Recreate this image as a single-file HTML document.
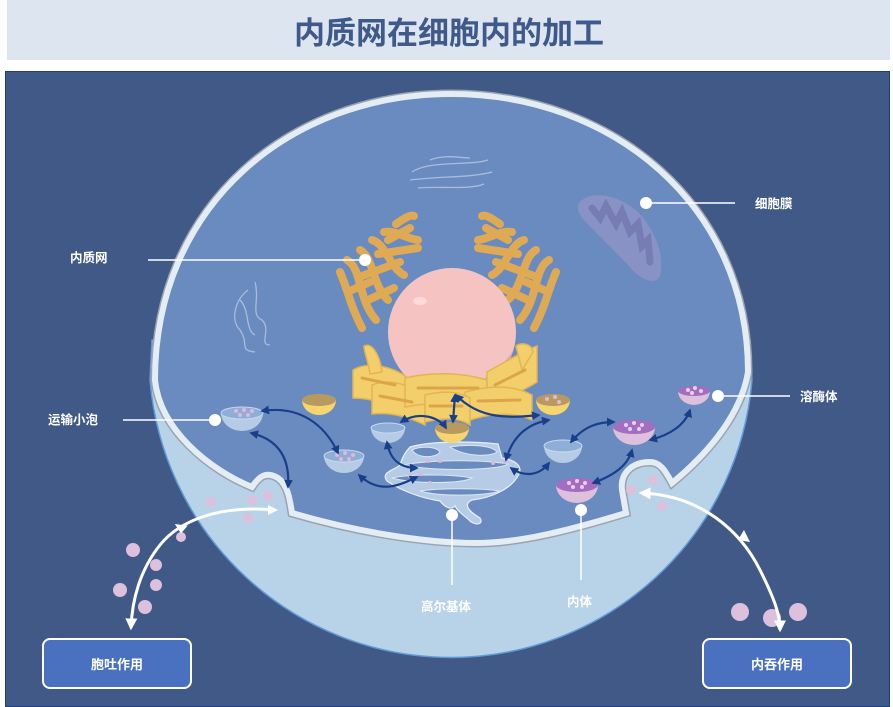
<!DOCTYPE html>
<html><head><meta charset="utf-8"><style>
html,body{margin:0;padding:0;background:#fff;}
body{width:893px;height:707px;overflow:hidden;position:relative;font-family:"Liberation Sans","Noto Sans CJK SC",sans-serif;}
</style></head><body>
<svg width="893" height="707" viewBox="0 0 893 707" xmlns="http://www.w3.org/2000/svg" style="position:absolute;left:0;top:0">
<defs>
<marker id="ah" viewBox="0 0 10 10" refX="8" refY="5" markerWidth="4" markerHeight="4" orient="auto-start-reverse"><path d="M0,0 L10,5 L0,10 z" fill="#1a3f8a"/></marker>
<marker id="wh" viewBox="0 0 10 10" refX="8" refY="5" markerWidth="4" markerHeight="4" orient="auto-start-reverse"><path d="M0,0 L10,5 L0,10 z" fill="#fff"/></marker>
</defs>
<rect x="7" y="0" width="883" height="60" fill="#dde6f0"/>
<text x="449" y="44" text-anchor="middle" font-size="31" font-weight="bold" fill="#3f5a8a" font-family="Liberation Sans, Noto Sans CJK SC, sans-serif">内质网在细胞内的加工</text>
<rect x="5.5" y="71.5" width="884" height="635" fill="#405987" stroke="#1f3f7a"/>

<!-- outer cell lower sphere -->
<path d="M150,380 A302,302 0 0,0 752,380 L750,340 L152,340 Z" fill="#b8d2e8" stroke="#5f9ad8" stroke-width="1.5"/>
<!-- cytoplasm -->
<path d="M155,380 C155,205 290,94 451,94 C612,94 748,205 748,372 C740,420 700,460 672,483 C665,470 660,462 650,462 C630,462 620,475 622,490 L626,513 C570,530 520,543 476,543 C420,543 350,530 292,513 C290,500 288,485 278,478 C265,470 258,478 252,487 C210,470 160,430 155,380 Z" fill="#6a8bbf" stroke="#9aa4b0" stroke-width="9"/>
<path d="M155,380 C155,205 290,94 451,94 C612,94 748,205 748,372 C740,420 700,460 672,483 C665,470 660,462 650,462 C630,462 620,475 622,490 L626,513 C570,530 520,543 476,543 C420,543 350,530 292,513 C290,500 288,485 278,478 C265,470 258,478 252,487 C210,470 160,430 155,380 Z" fill="#6a8bbf" stroke="#e4ecf4" stroke-width="6"/>

<!-- faint outlines -->
<g fill="none" stroke="#b8c8e6" stroke-width="1.3" opacity="0.8">
<path d="M412,172 C430,160 470,166 488,160 M410,180 C440,176 470,178 492,172 M418,188 C440,186 470,190 484,184 M430,160 C445,154 460,158 470,158"/>
<path d="M248,290 C235,300 230,320 240,330 C250,345 238,350 255,352 M255,282 C260,300 250,315 262,320 C272,330 258,345 270,345 M240,300 C250,310 245,330 255,335"/>
</g>
<!-- mitochondrion -->
<path d="M582,200 C595,190 620,196 638,212 C655,230 665,255 660,276 C655,286 640,280 628,265 C612,248 595,232 582,218 C576,210 577,204 582,200 Z" fill="#8e93c4" opacity="0.85"/>
<g fill="none" stroke="#7478b0" stroke-width="7" stroke-linecap="round" opacity="0.85">
<path d="M592,208 L600,218 L606,206 L616,224 L622,212 L630,232 L638,224 L642,246 L648,240 L650,262"/>
</g>

<!-- ER -->
<g id="er" fill="none" stroke="#e0aa55" stroke-width="8" stroke-linecap="round" stroke-linejoin="round">
<path d="M340,272 C348,290 350,305 362,328"/>
<path d="M347,260 C362,268 358,300 376,320"/>
<path d="M360,250 C374,258 372,285 388,300"/>
<path d="M372,240 C386,244 390,268 404,275"/>
<path d="M384,232 C396,230 404,238 418,240"/>
<path d="M396,224 C402,220 410,214 414,216"/>
<path d="M368,300 L394,288 M362,276 L400,262 M378,254 L418,248 M388,240 L410,228 M352,290 L370,282"/>
</g>
<use href="#er" transform="translate(896,0) scale(-1,1)"/>

<!-- nucleus -->
<circle cx="452" cy="332" r="64" fill="#f5c4c2"/>
<path d="M513,350 C505,375 485,392 455,396 C485,380 505,365 513,350 Z" fill="#e0a6a6"/>
<ellipse cx="420" cy="301" rx="7" ry="4" fill="#fbdada"/>

<!-- yellow stack around nucleus -->
<g fill="#f2cf6a" stroke="#e3b550" stroke-width="1.5">
<path d="M353,370 C370,360 395,368 408,378 L408,412 C392,404 370,398 353,398 Z"/>
<path d="M372,385 C390,378 410,385 425,395 L425,425 C405,415 388,412 372,414 Z"/>
<path d="M405,378 C430,372 460,372 487,380 L487,410 C460,402 430,402 405,407 Z"/>
<path d="M487,372 C505,362 522,352 537,346 L537,382 C525,390 505,398 487,406 Z"/>
<path d="M465,392 C490,385 515,385 532,395 L532,420 C515,412 490,412 465,422 Z"/>
<path d="M425,395 C445,390 460,392 470,398 L470,425 C460,418 445,417 425,422 Z"/>
<path d="M364,346 C372,342 380,355 382,372 L370,374 C368,360 364,352 364,346 Z"/>
<path d="M516,346 C522,342 532,344 533,352 L522,370 Z"/>
</g>
<g stroke="#dda54a" stroke-width="3" fill="none" stroke-linecap="round">
<path d="M362,378 L395,385 M380,396 L412,402 M418,388 L478,388 M495,385 L525,370 M478,401 L520,400 M430,406 L462,406"/>
</g>

<!-- Golgi body -->
<path d="M410,447 C430,441 470,441 498,444 L502,458 C515,460 524,466 518,476 C510,490 490,498 472,500 C462,505 470,512 480,518 C484,524 476,526 470,521 C465,516 458,512 455,506 C450,511 444,506 440,501 C420,498 400,490 387,481 C380,472 395,470 400,465 C402,458 405,452 410,447 Z" fill="#b6cce6" stroke="#e8f0fa" stroke-width="1.2"/>
<g fill="#6a8bbf" stroke="#dbe6f4" stroke-width="1">
<path d="M412,450 C420,446 436,446 440,452 C436,458 418,459 412,450 Z"/>
<path d="M450,447 C468,444 492,445 497,452 C490,457 466,457 450,447 Z"/>
<path d="M403,465 C430,460 480,459 508,464 C500,470 440,472 403,465 Z"/>
<path d="M392,478 C410,474 450,474 472,478 C460,484 415,484 392,478 Z"/>
<path d="M420,491 C440,488 480,488 500,491 C485,496 440,497 420,491 Z"/>
</g>
<g fill="#dab8d8"><circle cx="428" cy="461" r="2"/><circle cx="440" cy="461" r="2"/><circle cx="410" cy="476" r="2"/><circle cx="420" cy="474" r="2"/><circle cx="430" cy="483" r="2"/><circle cx="493" cy="463" r="2"/><circle cx="505" cy="462" r="2"/></g>

<!-- bowls -->
<path d="M221,413 A21,18 0 0,0 263,413 Z" fill="#b6cce6"/><ellipse cx="242" cy="413" rx="21" ry="6" fill="#8eaed8" stroke="#c8d8ee"/>
<path d="M324,456 A20,17 0 0,0 364,456 Z" fill="#b6cce6"/><ellipse cx="344" cy="456" rx="20" ry="6" fill="#8eaed8" stroke="#c8d8ee"/>
<path d="M371,428 A17,15 0 0,0 405,428 Z" fill="#b6cce6"/><ellipse cx="388" cy="428" rx="17" ry="5" fill="#8eaed8" stroke="#c8d8ee"/>
<path d="M544,446 A19,17 0 0,0 582,446 Z" fill="#b6cce6"/><ellipse cx="563" cy="446" rx="19" ry="6" fill="#8eaed8" stroke="#c8d8ee"/>
<path d="M302,400 A17,15 0 0,0 336,400 Z" fill="#f6d46e"/><ellipse cx="319" cy="400" rx="17" ry="6" fill="#b89a60"/>
<path d="M435,428 A17,15 0 0,0 469,428 Z" fill="#f6d46e"/><ellipse cx="452" cy="428" rx="17" ry="6" fill="#b89a60"/>
<path d="M536,400 A17,15 0 0,0 570,400 Z" fill="#f6d46e"/><ellipse cx="553" cy="400" rx="17" ry="6" fill="#b89a60"/>
<path d="M613,427 A21,18 0 0,0 655,427 Z" fill="#dcc0dc"/><ellipse cx="634" cy="427" rx="21" ry="7" fill="#a46ec0"/>
<path d="M556,485 A21,18 0 0,0 598,485 Z" fill="#dcc0dc"/><ellipse cx="577" cy="485" rx="21" ry="7" fill="#a46ec0"/>
<path d="M678,391 A16,14 0 0,0 710,391 Z" fill="#dcc0dc"/><ellipse cx="694" cy="391" rx="16" ry="5" fill="#a46ec0"/>
<g fill="#e0b8d8"><circle cx="236" cy="411" r="2"/><circle cx="244" cy="410" r="2"/><circle cx="252" cy="411" r="2"/><circle cx="240" cy="415" r="2"/><circle cx="248" cy="415" r="2"/>
<circle cx="337" cy="455" r="2"/><circle cx="345" cy="453" r="2"/><circle cx="353" cy="455" r="2"/><circle cx="341" cy="459" r="2"/><circle cx="349" cy="459" r="2"/>
<circle cx="547" cy="399" r="2"/><circle cx="555" cy="397" r="2"/><circle cx="559" cy="402" r="2"/></g>
<g fill="#e8d0ec"><circle cx="626" cy="425" r="2"/><circle cx="634" cy="423" r="2"/><circle cx="642" cy="425" r="2"/><circle cx="630" cy="429" r="2"/><circle cx="639" cy="429" r="2"/>
<circle cx="569" cy="483" r="2"/><circle cx="577" cy="481" r="2"/><circle cx="585" cy="483" r="2"/><circle cx="573" cy="487" r="2"/><circle cx="582" cy="487" r="2"/>
<circle cx="688" cy="390" r="2"/><circle cx="695" cy="388" r="2"/><circle cx="701" cy="391" r="2"/><circle cx="692" cy="393" r="2"/></g>

<!-- blue arrows -->
<g fill="none" stroke="#1a3f8a" stroke-width="2.2" marker-start="url(#ah)" marker-end="url(#ah)">
<path d="M262,411 C300,405 325,425 338,453"/>
<path d="M251,433 C280,440 290,460 288,487"/>
<path d="M359,475 C380,495 400,485 417,477"/>
<path d="M387,442 C390,460 400,468 417,468"/>
<path d="M401,422 C420,410 440,418 446,428"/>
<path d="M455,395 L453,422"/>
<path d="M456,395 C480,420 510,418 539,415"/>
<path d="M549,420 C520,425 510,445 506,460"/>
<path d="M511,468 C525,478 540,475 549,463"/>
<path d="M571,442 C585,425 600,422 614,422"/>
<path d="M593,483 C615,475 628,465 632,450"/>
<path d="M650,440 C670,435 685,425 690,410"/>
</g>

<!-- pink dots -->
<g fill="#dcc0dc"><circle cx="211" cy="502" r="5"/><circle cx="252" cy="500" r="5"/><circle cx="268" cy="496" r="5"/><circle cx="248" cy="518" r="5"/><circle cx="181" cy="537" r="5"/><circle cx="133" cy="550" r="7"/><circle cx="156" cy="565" r="6"/><circle cx="156" cy="585" r="6"/><circle cx="120" cy="590" r="7"/><circle cx="145" cy="607" r="7"/>
<circle cx="653" cy="480" r="5"/><circle cx="662" cy="506" r="5"/><circle cx="631" cy="490" r="5"/><circle cx="740" cy="612" r="9"/><circle cx="772" cy="618" r="9"/><circle cx="798" cy="612" r="9"/></g>

<!-- white arrows -->
<g fill="none" stroke="#fff" stroke-width="3">
<path d="M275,510 C220,505 180,520 160,545 C140,570 132,600 131,628" marker-end="url(#wh)"/>
<path d="M641,493 C700,495 740,530 760,570 C775,600 780,615 780,630" marker-start="url(#wh)" marker-end="url(#wh)"/>
</g>
<path d="M268,505 L278,510 L268,515 Z" fill="#fff"/>
<path d="M176,522 L186,527 L174,532 Z" fill="#fff" transform="rotate(-150 180 527)"/>
<path d="M738,540 L744,530 L750,542 Z" fill="#fff"/>

<!-- label lines & dots -->
<g stroke="#fff" stroke-width="1.5">
<line x1="646" y1="203" x2="735" y2="203"/>
<line x1="148" y1="260" x2="365" y2="260"/>
<line x1="123" y1="420" x2="215" y2="420"/>
<line x1="718" y1="396" x2="790" y2="396"/>
<line x1="452" y1="515" x2="452" y2="585"/>
<line x1="581" y1="510" x2="581" y2="580"/>
</g>
<g fill="#fff"><circle cx="646" cy="203" r="6"/><circle cx="365" cy="260" r="6"/><circle cx="215" cy="420" r="6"/><circle cx="718" cy="396" r="6"/><circle cx="452" cy="515" r="6"/><circle cx="581" cy="510" r="6"/></g>

<g fill="#fff" font-size="12.5" font-weight="bold" font-family="Liberation Sans, Noto Sans CJK SC, sans-serif">
<text x="755" y="208">细胞膜</text>
<text x="70" y="262">内质网</text>
<text x="48" y="424">运输小泡</text>
<text x="800" y="401">溶酶体</text>
<text x="421" y="611">高尔基体</text>
<text x="567" y="606">内体</text>
</g>

<rect x="43" y="639" width="148" height="49" rx="7" fill="#4a71c0" stroke="#fff" stroke-width="2"/>
<rect x="703" y="639" width="148" height="49" rx="7" fill="#4a71c0" stroke="#fff" stroke-width="2"/>
<g fill="#fff" font-size="13" font-weight="bold" text-anchor="middle" font-family="Liberation Sans, Noto Sans CJK SC, sans-serif">
<text x="117" y="669">胞吐作用</text>
<text x="777" y="669">内吞作用</text>
</g>
</svg>
</body></html>
